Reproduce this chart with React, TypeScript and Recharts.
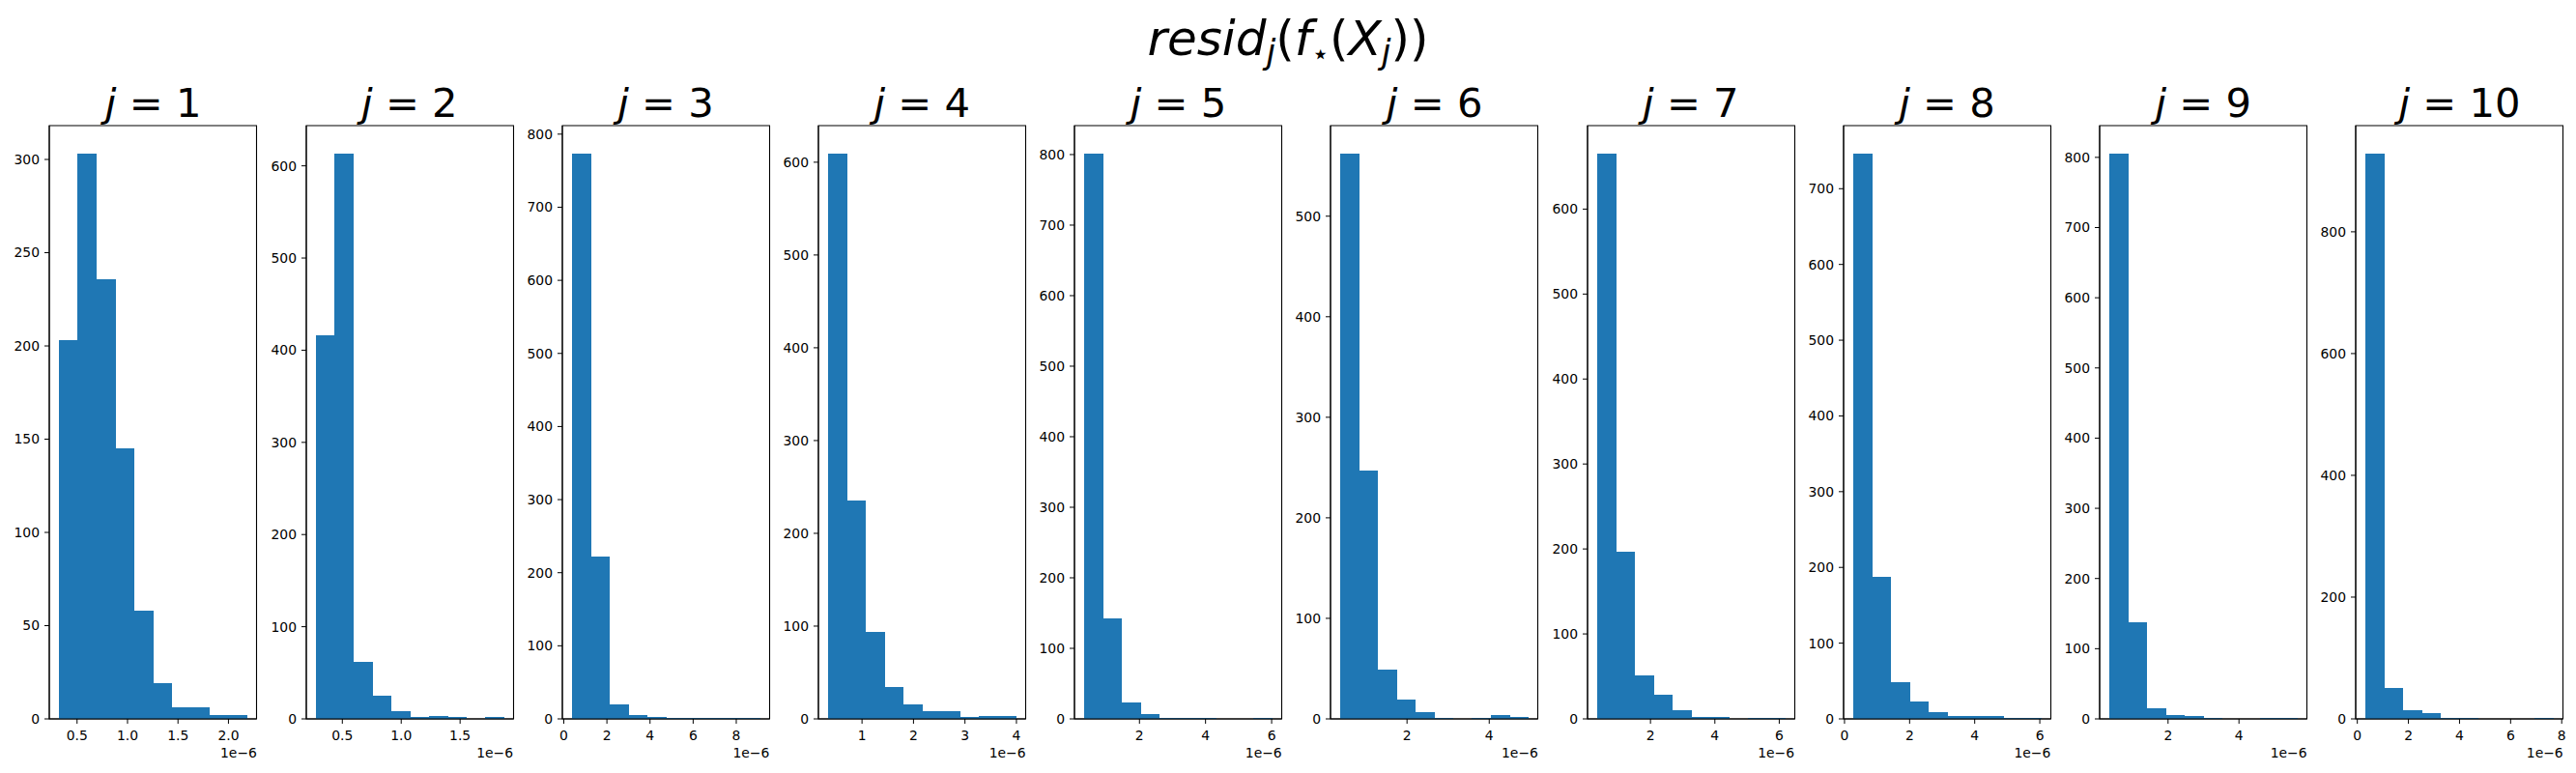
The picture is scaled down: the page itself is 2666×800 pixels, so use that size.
import { BarChart, Bar, XAxis, YAxis, ReferenceArea } from "recharts";

const BLUE = "#1f77b4";
const FONT = "DejaVu Sans, sans-serif";

// panel titles j = 1..10
const panelLabels = ["1", "2", "3", "4", "5", "6", "7", "8", "9", "10"];

// histogram range of each panel (units of 1e-6), 10 equal bins
const binRanges: [number, number][] = [
  [0.318, 2.185],
  [0.274, 1.874],
  [0.37, 9.11],
  [0.336, 3.996],
  [0.318, 6.02],
  [0.368, 4.952],
  [0.337, 6.19],
  [0.261, 6.05],
  [0.336, 5.65],
  [0.305, 7.68],
];

// bin counts
const counts: number[][] = [
  [203, 303, 236, 145, 58, 19, 6, 6, 2, 2],
  [416, 613, 62, 25, 8, 2, 3, 2, 0, 2],
  [773, 222, 20, 5, 3, 1, 1, 1, 1, 1],
  [609, 235, 94, 34, 16, 8, 8, 2, 3, 3],
  [801, 143, 23, 7, 1, 1, 2, 0, 0, 1],
  [562, 247, 49, 19, 7, 1, 0, 1, 4, 2],
  [665, 197, 51, 28, 10, 2, 2, 0, 1, 1],
  [746, 187, 48, 23, 9, 4, 4, 4, 1, 1],
  [805, 138, 15, 5, 4, 1, 0, 0, 1, 1],
  [928, 51, 14, 9, 1, 1, 0, 0, 0, 1],
];

const xTicks: number[][] = [
  [0.5, 1.0, 1.5, 2.0],
  [0.5, 1.0, 1.5],
  [0, 2, 4, 6, 8],
  [1, 2, 3, 4],
  [2, 4, 6],
  [2, 4],
  [2, 4, 6],
  [0, 2, 4, 6],
  [2, 4],
  [0, 2, 4, 6, 8],
];
const xTickDecimals = [1, 1, 0, 0, 0, 0, 0, 0, 0, 0];

const yTicks: number[][] = [
  [0, 50, 100, 150, 200, 250, 300],
  [0, 100, 200, 300, 400, 500, 600],
  [0, 100, 200, 300, 400, 500, 600, 700, 800],
  [0, 100, 200, 300, 400, 500, 600],
  [0, 100, 200, 300, 400, 500, 600, 700, 800],
  [0, 100, 200, 300, 400, 500],
  [0, 100, 200, 300, 400, 500, 600],
  [0, 100, 200, 300, 400, 500, 600, 700],
  [0, 100, 200, 300, 400, 500, 600, 700, 800],
  [0, 200, 400, 600, 800],
];

const PANEL_STEP = 265.2;
const AXIS_W = 51;
const PLOT_W = 214.5;
const RIGHT_PAD = 12; // room for the last tick label
const CHART_W = AXIS_W + PLOT_W + RIGHT_PAD;
const PLOT_TOP = 130;
const X_AXIS_H = 56;

const panelLeft = (k: number) => 0.4 + k * PANEL_STEP;

const histData = (k: number) => {
  const [lo, hi] = binRanges[k];
  const w = (hi - lo) / counts[k].length;
  return counts[k].map((c, i) => ({ x: lo + (i + 0.5) * w, count: c }));
};

const tickStyle = { fill: "#000", fontSize: 13.9, fontFamily: FONT };

// recharts floors the bar width, so widen each rect a bit to close the seams
const HistBar = (props: any) => {
  const { x, y, width, height } = props;
  if (!height || height <= 0) return null;
  return (
    <rect
      x={x}
      y={y}
      width={width + 1}
      height={height}
      fill={BLUE}
      shapeRendering="crispEdges"
    />
  );
};

const HistPanel = ({ k }: { k: number }) => {
  const data = histData(k);
  const [lo, hi] = binRanges[k];
  const pad = (hi - lo) * 0.05;
  const yMax = Math.max(...counts[k]) * 1.05;
  return (
    <div style={{ position: "absolute", left: panelLeft(k), top: 0 }}>
      <BarChart
        width={CHART_W}
        height={800}
        data={data}
        margin={{ top: PLOT_TOP, right: RIGHT_PAD, bottom: 0, left: 0 }}
        barCategoryGap={0}
        barGap={0}
      >
        <XAxis
          dataKey="x"
          type="number"
          domain={[lo - pad, hi + pad]}
          ticks={xTicks[k]}
          allowDataOverflow
          interval={0}
          height={X_AXIS_H}
          stroke="#000"
          tickSize={5}
          tickMargin={7}
          tick={tickStyle}
          tickFormatter={(v: number) => v.toFixed(xTickDecimals[k])}
        />
        <YAxis
          type="number"
          domain={[0, yMax]}
          ticks={yTicks[k]}
          allowDataOverflow
          interval={0}
          width={AXIS_W}
          stroke="#000"
          tickSize={5}
          tickMargin={5}
          tick={tickStyle}
        />
        <Bar
          dataKey="count"
          fill={BLUE}
          shape={HistBar}
          isAnimationActive={false}
        />
        <ReferenceArea
          x1={lo - pad}
          x2={hi + pad}
          y1={0}
          y2={yMax}
          fill="none"
          fillOpacity={0}
          stroke="#000"
          strokeWidth={1.1}
          ifOverflow="visible"
        />
      </BarChart>
    </div>
  );
};

export default function App() {
  return (
    <div
      style={{
        position: "absolute",
        left: 0,
        top: 0,
        width: 2666,
        height: 800,
        background: "#fff",
        overflow: "hidden",
      }}
    >
      {counts.map((_, k) => (
        <HistPanel key={k} k={k} />
      ))}
      <svg
        width={2666}
        height={800}
        style={{ position: "absolute", left: 0, top: 0, pointerEvents: "none" }}
        fontFamily={FONT}
      >
        <text x={1333} y={57} textAnchor="middle" fontSize={50} fill="#000">
          <tspan fontStyle="italic">resid</tspan>
          <tspan fontStyle="italic" fontSize={35} dy={9}>j</tspan>
          <tspan dy={-9}>(</tspan>
          <tspan fontStyle="italic">f</tspan>
          <tspan fontSize={30} dy={9}>⋆</tspan>
          <tspan dy={-9}>(</tspan>
          <tspan fontStyle="italic">X</tspan>
          <tspan fontStyle="italic" fontSize={35} dy={9}>j</tspan>
          <tspan dy={-9}>))</tspan>
        </text>
        {panelLabels.map((lab, k) => (
          <g key={lab}>
            <text
              x={panelLeft(k) + AXIS_W + PLOT_W / 2}
              y={121}
              textAnchor="middle"
              fontSize={41.7}
              fill="#000"
            >
              <tspan fontStyle="italic">j</tspan>
              <tspan> = {lab}</tspan>
            </text>
            <text
              x={panelLeft(k) + AXIS_W + PLOT_W}
              y={783.5}
              textAnchor="end"
              fontSize={13.9}
              fill="#000"
            >
              1e−6
            </text>
          </g>
        ))}
      </svg>
    </div>
  );
}
